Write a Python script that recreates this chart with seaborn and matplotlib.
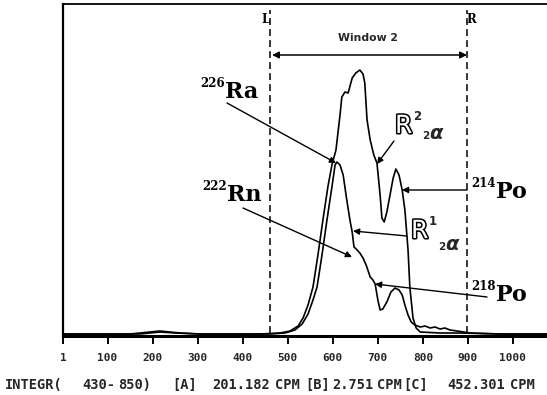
import matplotlib
matplotlib.use("Agg")
import matplotlib.pyplot as plt
import matplotlib.patheffects as pe
import seaborn as sns
import pandas as pd

# ---------------- data ----------------
# spectrum R^2_2alpha (226Ra source, taller curve)
chan_a = [1, 150, 172, 194, 216, 238, 261, 305, 438, 483, 505, 523, 534, 545, 556, 567,
          578, 589, 598, 607, 616, 620, 627, 634, 643, 651, 660, 667, 671, 676, 683, 691,
          698, 705, 709, 714, 720, 727, 734, 740, 747, 754, 760, 767, 771, 778, 785, 794,
          838, 882, 971, 1075]
counts_a = [2, 2, 3, 4, 5, 4, 3, 2, 2, 3, 5, 10, 18, 31, 49, 81,
            116, 149, 171, 186, 221, 239, 244, 243, 258, 263, 266, 262, 253, 216, 196, 181,
            173, 141, 118, 114, 124, 141, 158, 167, 161, 146, 126, 86, 49, 18, 8, 4,
            3, 3, 2, 2]
# spectrum R^1_2alpha (222Rn source)
chan_b = [1, 172, 194, 216, 250, 305, 460, 494, 516, 532, 545, 556, 565, 576, 587, 598,
          605, 609, 616, 623, 631, 638, 643, 647, 654, 660, 667, 674, 683, 689, 694, 700,
          705, 711, 720, 729, 738, 747, 754, 760, 767, 774, 782, 794, 805, 816, 827, 838,
          849, 860, 876, 905, 971, 1075]
counts_b = [2, 2, 3, 4, 3, 2, 2, 3, 6, 12, 22, 36, 49, 81, 116, 149,
            171, 174, 171, 161, 136, 116, 104, 89, 86, 83, 78, 71, 59, 56, 52, 36,
            26, 27, 34, 44, 48, 46, 41, 31, 21, 14, 11, 9, 10, 8, 9, 7,
            8, 6, 5, 3, 2, 2]
window_edges = [460, 898]
tick_values = [1, 100, 200, 300, 400, 500, 600, 700, 800, 900, 1000]
tick_labels = ["1", "100", "200", "300", "400", "500", "600", "700", "800", "900", "1000"]
summary_texts = ["INTEGR(", "430-", "850)", "[A]", "201.182", "CPM", "[B]",
                 "2.751", "CPM", "[C]", "452.301", "CPM"]

df_a = pd.DataFrame({"channel": chan_a, "counts": counts_a})
df_b = pd.DataFrame({"channel": chan_b, "counts": counts_b})

# ---------------- figure ----------------
sns.set_style("white")
W, H = 547, 395
fig = plt.figure(figsize=(W / 100, H / 100), dpi=100)
ax = fig.add_axes([63 / W, (H - 336) / H, (W - 63) / W, (336 - 4) / H])


def P(px, py):
    return (px / W, 1 - py / H)


sns.lineplot(data=df_a, x="channel", y="counts", ax=ax, color="black", lw=1.2,
             estimator=None, sort=False)
sns.lineplot(data=df_b, x="channel", y="counts", ax=ax, color="black", lw=1.2,
             estimator=None, sort=False)

ax.set_xlim(1, 1075.5)
ax.set_ylim(0, 332)
ax.set_xlabel("")
ax.set_ylabel("")
ax.set_yticks([])
ax.set_xticks(tick_values)
ax.set_xticklabels(tick_labels, fontfamily="DejaVu Sans Mono", fontweight="bold", fontsize=8)
ax.tick_params(axis="x", direction="out", length=6, width=1.4, color="black", pad=6,
               bottom=True)

for s in ["left", "top", "bottom"]:
    ax.spines[s].set_color("black")
ax.spines["right"].set_visible(False)
ax.spines["bottom"].set_linewidth(2.2)
ax.spines["left"].set_linewidth(1.6)
ax.spines["top"].set_linewidth(1.3)

# window dashed lines
ax.vlines(window_edges, 3, 326, colors="black", lw=1.1, linestyles=(0, (4.5, 2.7)))

serif_b = dict(family="DejaVu Serif", weight="bold", color="black")
fig.text(*P(261, 23), "L", ha="left", va="baseline", fontsize=8.5, **serif_b)
fig.text(*P(466, 23), "R", ha="left", va="baseline", fontsize=8.5, **serif_b)

# Window 2 label and arrow
fig.text(*P(368, 41), "Window 2", ha="center", va="baseline", fontsize=7.8,
         family="DejaVu Sans", weight="bold")
ax.annotate("", xy=P(467, 55), xytext=P(272, 55), xycoords="figure fraction",
            textcoords="figure fraction",
            arrowprops=dict(arrowstyle="<|-|>", color="black", lw=1.1, mutation_scale=10,
                            shrinkA=0, shrinkB=0))


def arrow(start, end):
    ax.annotate("", xy=P(*end), xytext=P(*start), xycoords="figure fraction",
                textcoords="figure fraction",
                arrowprops=dict(arrowstyle="-|>", color="black", lw=1.0, mutation_scale=9,
                                shrinkA=0, shrinkB=0))


arrow((227, 103), (336, 163))   # 226Ra
arrow((243, 208), (352, 257))   # 222Rn
arrow((394, 141), (377, 164))   # R2
arrow((467, 190), (402, 190))   # 214Po
arrow((407, 236), (353, 231))   # R1
arrow((487, 297), (375, 284))   # 218Po


def nuclide(x, ybase, mass, sym):
    fig.text(*P(x, ybase - 11), mass, ha="left", va="baseline", fontsize=8.5, **serif_b)
    fig.text(*P(x + 25, ybase), sym, ha="left", va="baseline", fontsize=16, **serif_b)


nuclide(200, 98, "226", "Ra")
nuclide(202, 201, "222", "Rn")
nuclide(471, 198, "214", "Po")
nuclide(471, 301, "218", "Po")

outline = [pe.withStroke(linewidth=2.2, foreground="black")]


def rlabel(x, ybase, sup, sub_base):
    fig.text(*P(x, ybase), "R", ha="left", va="baseline", fontsize=18,
             family="DejaVu Sans", color="white", path_effects=outline)
    fig.text(*P(x + 18, ybase - 13), sup, ha="left", va="baseline", fontsize=8.5,
             family="DejaVu Sans", weight="bold")
    fig.text(*P(x + 27, sub_base), "2", ha="left", va="baseline", fontsize=7.5,
             family="DejaVu Sans", weight="bold")
    fig.text(*P(x + 34, sub_base), "α", ha="left", va="baseline", fontsize=14,
             family="DejaVu Sans", weight="bold", style="italic")


rlabel(395, 133, "2", 139)
rlabel(411, 238, "1", 250)

# integration summary line
summary_x = [5, 82, 118, 172, 212, 275, 305, 332, 377, 403, 447, 510]
for sx, txt in zip(summary_x, summary_texts):
    fig.text(*P(sx, 389), txt, ha="left", va="baseline", fontsize=9.8,
             family="DejaVu Sans Mono", weight="bold")

fig.savefig("out.png", dpi=100)
